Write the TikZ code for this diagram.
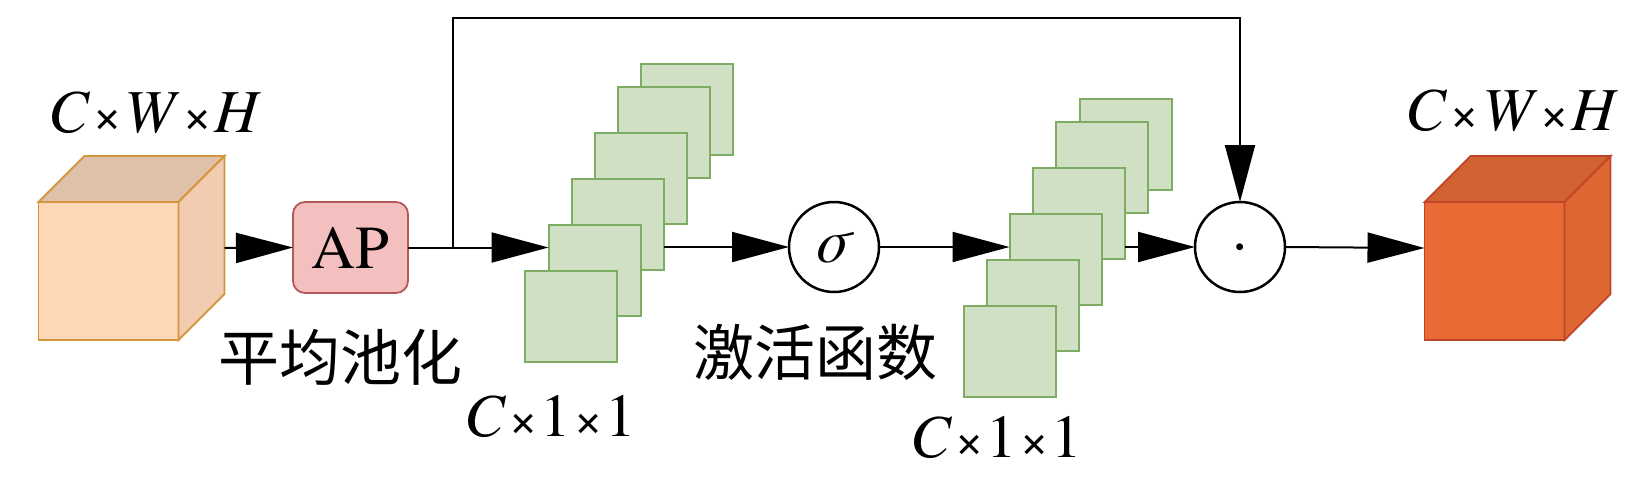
\documentclass[tikz,border=0pt]{standalone}
\usepackage{fontspec}
\setmainfont{TeX Gyre Termes}
\newfontfamily\cjk{Noto Sans CJK SC}
\newcommand{\mul}{\kern3pt{\fontsize{50}{60}\selectfont ×}\kern3pt}
\usepackage{tikz}
\usepackage{xcolor}
\usetikzlibrary{arrows.meta, positioning}
\definecolor{inFront}{HTML}{FDD8B6}
\definecolor{inTop}{HTML}{DFC1A9}
\definecolor{inSide}{HTML}{F1CCB0}
\definecolor{inLine}{HTML}{D3963F}
\definecolor{apFill}{HTML}{F4BFBF}
\definecolor{apLine}{HTML}{B55858}
\definecolor{mapFill}{HTML}{D0E0C5}
\definecolor{mapLine}{HTML}{7DAC62}
\definecolor{outFront}{HTML}{EA6A35}
\definecolor{outTop}{HTML}{D06331}
\definecolor{outSide}{HTML}{DD6633}
\definecolor{outLine}{HTML}{BF4529}
\tikzstyle{arrow} = [line width=2pt,-{Triangle[length=57pt,width=30pt]}]

\begin{document}
\begin{tikzpicture}[
        x=1pt, y=-1pt,
        font=\fontsize{61}{70}\selectfont,
        every node/.style={inner sep=0pt, outer sep=0pt},
        cubebox/.style={minimum width=186pt, minimum height=184pt},
        cjklabel/.style={font=\cjk\fontsize{61}{70}\selectfont},
        fmap/.style={draw=mapLine, fill=mapFill, line width=2pt, minimum width=92pt, minimum height=91pt},
        opnode/.style={circle, draw, line width=2.5pt, fill=white, minimum size=90pt, text height=30pt, text depth=0pt}
    ]
        \useasboundingbox (0,0) rectangle (1632,491);

        % Input feature cube
        \node[cubebox] (in) at (131.5,248) {};
        \draw[line width=1.8pt, draw=inLine, fill=inFront] (in.south west) rectangle ++(140,-138);
        \draw[line width=1.8pt, draw=inLine, fill=inTop] (in.south west) ++(0,-138) -- ++(46,-46) -- ++(140,0) -- ++(-46,46) -- cycle;
        \draw[line width=1.8pt, draw=inLine, fill=inSide] (in.north east) -- ++(0,138) -- ++(-46,46) -- ++(0,-138) -- cycle;
        \node (insize) at (155,113) {\textit{C}\mul\textit{W}\mul\textit{H}};

        % Average pooling
        \node[draw=apLine, fill=apFill, line width=1.8pt, rounded corners=12pt, minimum width=115pt, minimum height=91pt] (ap) at (350.5,247.5) {AP};
        \node[cjklabel] (pool) at (340,357) {平均池化};
        \coordinate[right=45pt of ap.east] (split);

        % Pooled maps
        \node[fmap] (fa6) at (686.5,109.5) {};
        \node[fmap] (fa5) at (663.5,132) {};
        \node[fmap] (fa4) at (640.5,178) {};
        \node[fmap] (fa3) at (617.5,224.5) {};
        \node[fmap] (fa2) at (594.5,270.5) {};
        \node[fmap] (fa1) at (571,316.5) {};
        \node (dima) at (550,416) {\textit{C}\mul 1\mul 1};

        % Activation
        \node[opnode] (sigma) at (834,247) {\textit{σ}};
        \node[cjklabel] (act) at (815,352) {激活函数};

        % Weight maps
        \node[fmap] (fb6) at (1125.5,144.5) {};
        \node[fmap] (fb5) at (1102,167) {};
        \node[fmap] (fb4) at (1079,213) {};
        \node[fmap] (fb3) at (1055.5,259.5) {};
        \node[fmap] (fb2) at (1032.5,305.5) {};
        \node[fmap] (fb1) at (1010,351.5) {};
        \node (dimb) at (996,437) {\textit{C}\mul 1\mul 1};

        % Product
        \node[opnode] (odot) at (1240,247) {·};

        % Output feature cube
        \node[cubebox] (out) at (1517.5,248) {};
        \draw[line width=1.8pt, draw=outLine, fill=outFront] (out.south west) rectangle ++(140,-138);
        \draw[line width=1.8pt, draw=outLine, fill=outTop] (out.south west) ++(0,-138) -- ++(46,-46) -- ++(140,0) -- ++(-46,46) -- cycle;
        \draw[line width=1.8pt, draw=outLine, fill=outSide] (out.north east) -- ++(0,138) -- ++(-46,46) -- ++(0,-138) -- cycle;
        \node (outsize) at (1512,111) {\textit{C}\mul\textit{W}\mul\textit{H}};

        % Arrows
        \draw[arrow] (in.east) -- (ap.west);
        \draw[arrow] (ap.east) -- (ap.east -| fa2.west);
        \draw[arrow] (split) -- ++(0,-230) -| (odot.north);
        \draw[arrow] (fa3.east |- sigma.west) -- (sigma.west);
        \draw[arrow] (sigma.east) -- (sigma.east -| fb3.west);
        \draw[arrow] (fb4.east |- odot.west) -- (odot.west);
        \draw[arrow] (odot.east) -- (out.west);
    \end{tikzpicture}
\end{document}
